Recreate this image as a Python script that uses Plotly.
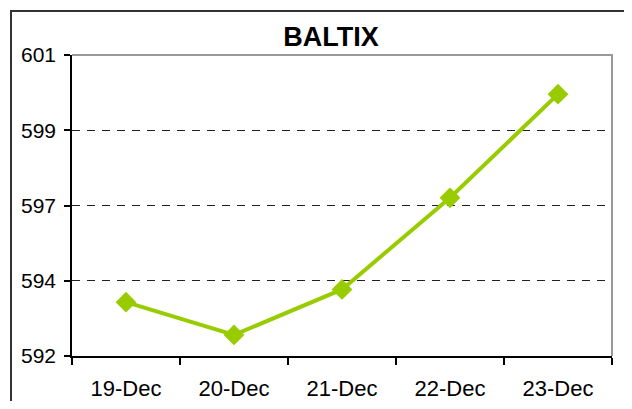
import plotly.graph_objects as go

categories = ["19-Dec", "20-Dec", "21-Dec", "22-Dec", "23-Dec"]
values = [593.61, 592.63, 593.99, 596.73, 599.83]
tick_vals = [592, 594.25, 596.5, 598.75, 601]
tick_text = ["592", "594", "597", "599", "601"]

# page offset of the figure (body margin)
OFF = 8
W, H = 616, 393
ml, mt = 72 - OFF, 55 - OFF
mr = W - (612 - OFF)
mb = H - (356 - OFF)
pw, ph = W - ml - mr, H - mt - mb

def px_x(x):
    return (x - OFF - ml) / pw

def px_y(y):
    return (H - mb - (y - OFF)) / ph

fig = go.Figure()
fig.add_trace(go.Scatter(
    x=categories, y=values, mode="lines+markers",
    line=dict(color="#99CC00", width=4),
    marker=dict(symbol="diamond", size=16, color="#99CC00"),
    showlegend=False, hoverinfo="x+y",
))

font_family = "Liberation Sans, Arial, sans-serif"

fig.update_layout(
    width=W, height=H,
    margin=dict(l=ml, r=mr, t=mt, b=mb),
    paper_bgcolor="white", plot_bgcolor="white",
    title=dict(text="<b>BALTIX</b>", x=(331 - OFF) / W, xanchor="center",
               y=1 - (37 - OFF) / H, yanchor="middle",
               font=dict(family=font_family, size=27, color="black")),
    xaxis=dict(
        type="category", range=[-0.5, 4.5], automargin=False,
        showline=True, linecolor="black", linewidth=1.5,
        ticks="outside", tickson="boundaries", ticklen=7, tickcolor="black", tickwidth=1.5,
        showgrid=False, zeroline=False, ticklabelstandoff=12,
        tickfont=dict(family=font_family, size=22, color="black"),
    ),
    yaxis=dict(
        range=[592, 601], tickmode="array", tickvals=tick_vals, ticktext=tick_text,
        automargin=False,
        showline=True, linecolor="black", linewidth=1.5,
        ticks="outside", ticklen=6, tickcolor="black", tickwidth=1.5,
        showgrid=True, gridcolor="#222", griddash="8px,7px", gridwidth=1,
        zeroline=False, ticklabelstandoff=4,
        tickfont=dict(family=font_family, size=21, color="black"),
    ),
    shapes=[
        dict(type="path", xref="paper", yref="paper", layer="above",
             path="M 0,1 L 1,1 L 1,0", line=dict(color="#999999", width=2)),
        dict(type="path", xref="paper", yref="paper", layer="above",
             path=f"M {px_x(11)},{px_y(H + 40)} L {px_x(11)},{px_y(11)} L {px_x(W + 40)},{px_y(11)}",
             line=dict(color="#333333", width=2)),
    ],
)

fig.write_html("out.html")
